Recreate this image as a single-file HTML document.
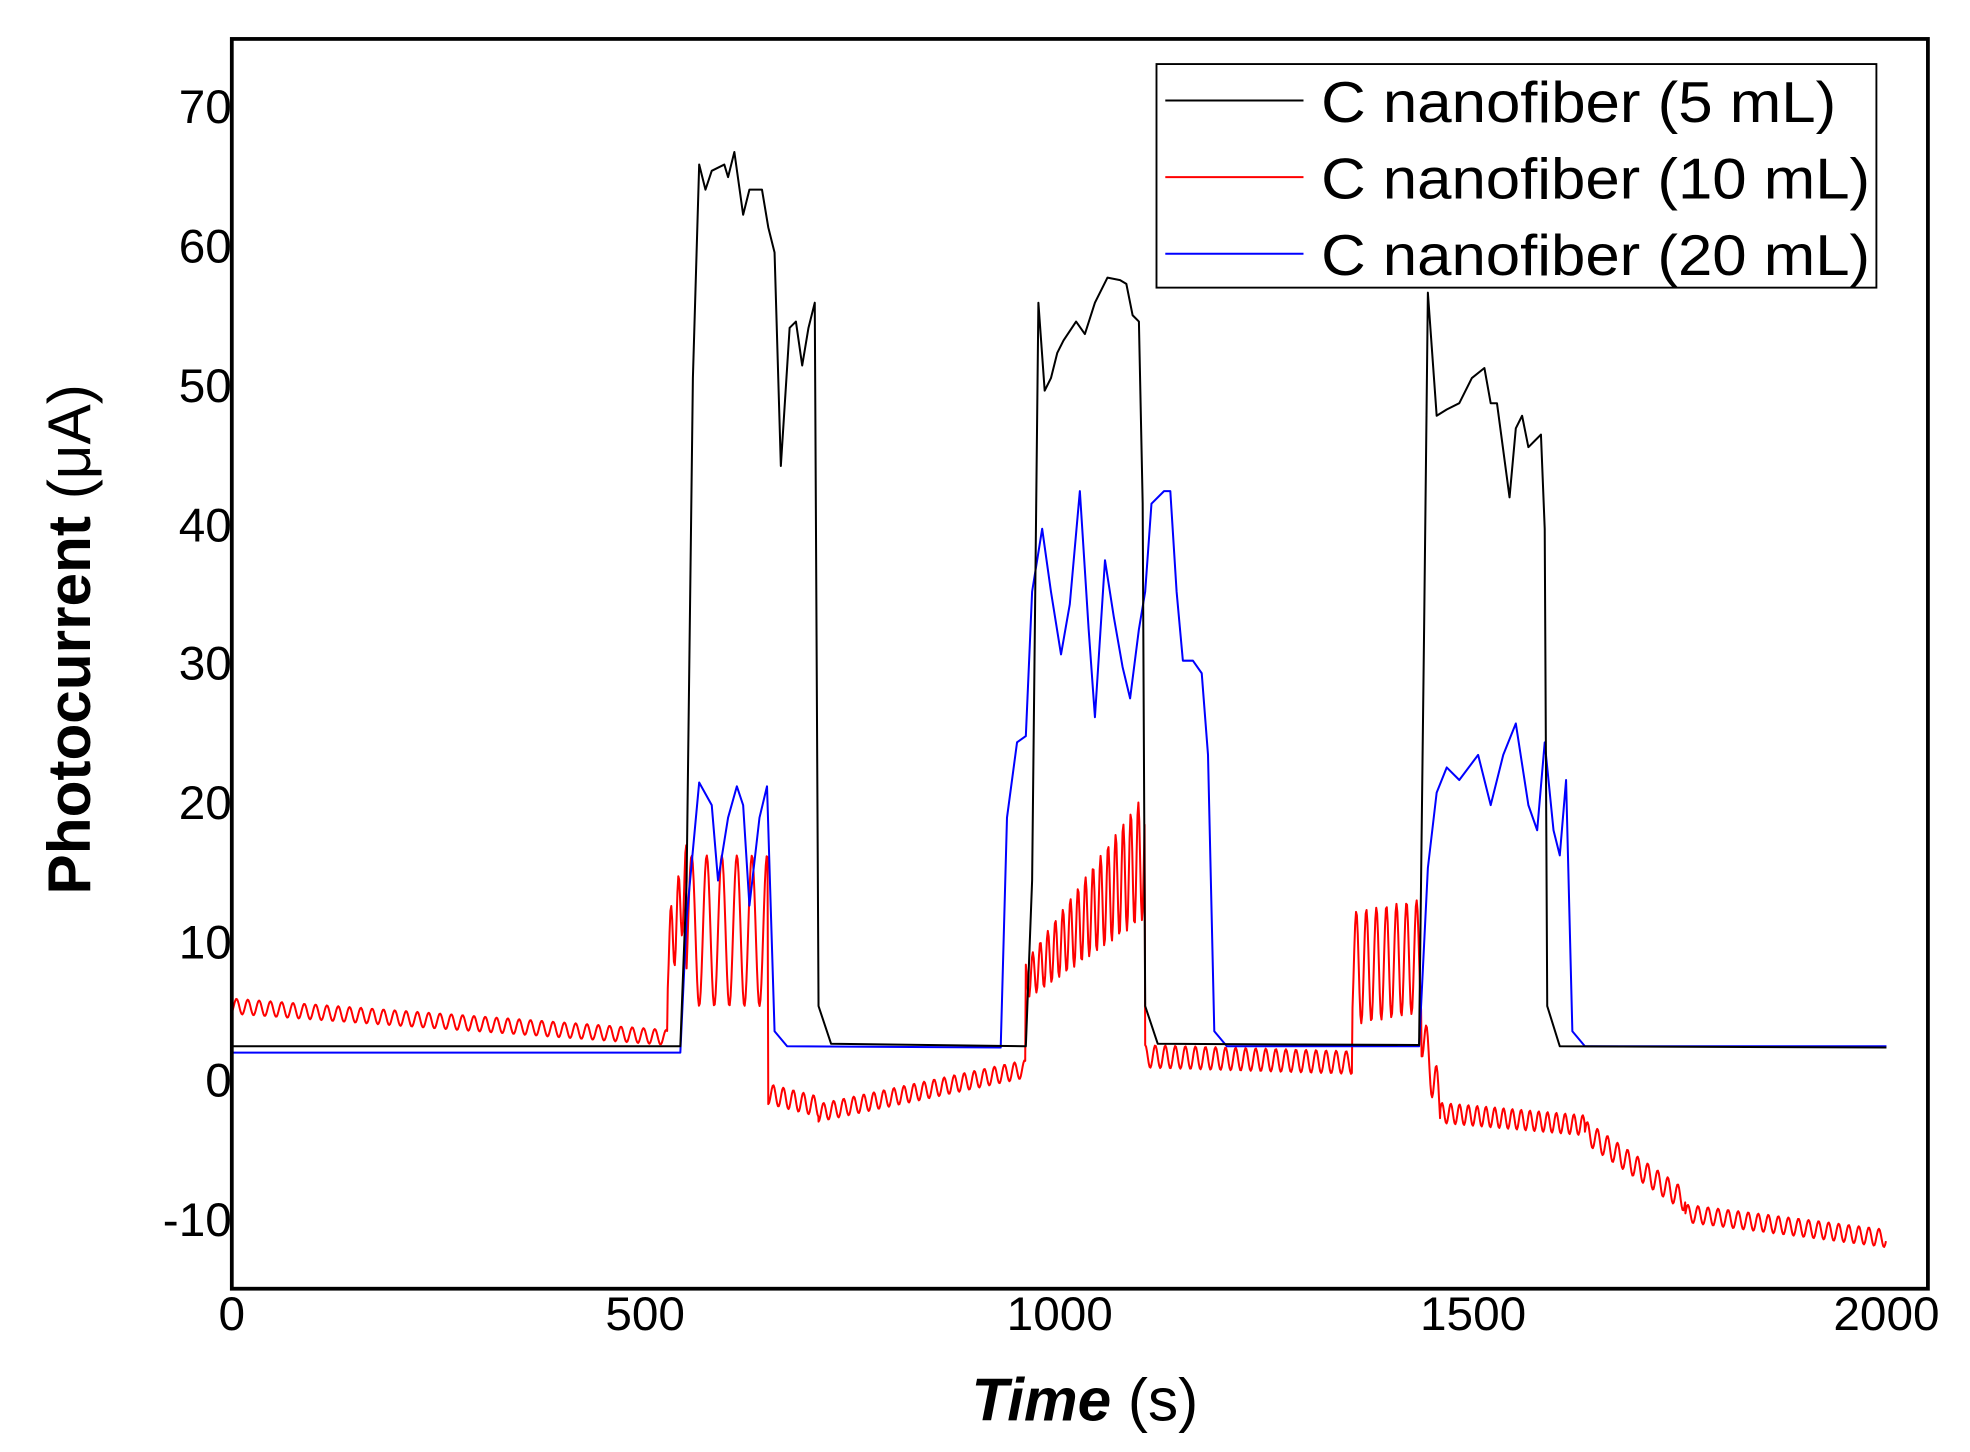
<!DOCTYPE html>
<html><head><meta charset="utf-8"><style>html,body{margin:0;padding:0;background:#fff}svg{display:block}</style></head>
<body>
<svg id="s" width="1970" height="1452" viewBox="-1.5 -1 1568 1156" preserveAspectRatio="none" xmlns="http://www.w3.org/2000/svg" font-family="Liberation Sans, sans-serif">
<rect x="-2" y="-2" width="1572" height="1160" fill="#fff"/>
<g font-size="38" fill="#000" text-anchor="end">
<text x="183" y="97">70</text><text x="183" y="208">60</text><text x="183" y="319">50</text>
<text x="183" y="430">40</text><text x="183" y="540">30</text><text x="183" y="651">20</text>
<text x="183" y="762">10</text><text x="183" y="872">0</text><text x="183" y="983">-10</text>
</g>
<g font-size="38" fill="#000" text-anchor="middle">
<text x="183" y="1058">0</text><text x="512" y="1058">500</text><text x="842" y="1058">1000</text>
<text x="1171" y="1058">1500</text><text x="1500" y="1058">2000</text>
</g>
<text x="862" y="1130" font-size="48" text-anchor="middle"><tspan font-weight="bold" font-style="italic">Time</tspan> (s)</text>
<text transform="translate(70,508) rotate(-90)" font-size="48" text-anchor="middle"><tspan font-weight="bold">Photocurrent</tspan> (μA)</text>
<g fill="none" stroke-width="1.6" stroke-linejoin="round">
<polyline id="red" stroke="#f00"/>
<polyline stroke="#00f" points="183,837 540,837 545,730 555,622 565,640 570,700 578,650 585,625 590,640 595,720 603,650 609,625 615,820 625,832 795,833 800,650 808,590 815,585 820,470 828,420 835,470 843,520 850,480 858,390 865,500 870,570 878,445 885,490 892,530 898,555 905,500 910,470 915,400 925,390 930,390 935,470 940,525 948,525 955,535 960,600 965,820 975,832 1128,832 1135,690 1142,630 1150,610 1160,620 1175,600 1185,640 1195,600 1205,575 1215,640 1222,660 1228,590 1235,660 1240,680 1245,620 1250,820 1260,832 1500,832"/>
<polyline stroke="#000" points="183,832 540,832 545,700 550,300 555,130 560,150 565,135 575,130 578,140 583,120 590,170 595,150 605,150 610,180 615,200 620,370 627,260 632,255 637,290 642,260 647,240 650,800 660,830 815,832 820,700 825,240 830,310 835,300 840,280 845,270 855,255 862,265 870,240 880,220 890,222 895,225 900,250 905,255 908,400 910,800 920,830 1128,831 1132,500 1135,232 1142,330 1150,325 1160,320 1170,300 1180,292 1185,320 1190,320 1200,395 1205,340 1210,330 1215,355 1220,350 1225,345 1228,420 1230,800 1240,832 1500,833"/>
</g>
<rect x="183" y="30" width="1350" height="995" fill="none" stroke="#000" stroke-width="3"/>
<rect x="919" y="50" width="573" height="178" fill="#fff" stroke="#000" stroke-width="1.5"/>
<line x1="926" y1="79" x2="1036" y2="79" stroke="#000" stroke-width="1.6"/>
<line x1="926" y1="140" x2="1036" y2="140" stroke="#f00" stroke-width="1.6"/>
<line x1="926" y1="201" x2="1036" y2="201" stroke="#00f" stroke-width="1.6"/>
<g font-size="46" fill="#000">
<text x="1050" y="96" textLength="410" lengthAdjust="spacingAndGlyphs">C nanofiber (5 mL)</text>
<text x="1050" y="157" textLength="437" lengthAdjust="spacingAndGlyphs">C nanofiber (10 mL)</text>
<text x="1050" y="218" textLength="437" lengthAdjust="spacingAndGlyphs">C nanofiber (20 mL)</text>
</g>
</svg>
<script>
var segs=[[183,530,800,825,6,9],[530,545,760,700,30,6],[545,610,740,740,60,12],[610,650,870,880,8,8],[650,815,885,850,7,8],[815,910,780,680,30,6],[910,1075,840,845,9,8],[1075,1130,770,760,45,8],[1130,1145,820,880,20,8],[1145,1260,885,895,8,7],[1260,1340,900,955,9,8],[1340,1500,965,985,7,8]];
var p=[];
segs.forEach(function(s){for(var x=s[0];x<s[1];x+=0.7){var t=(x-s[0])/(s[1]-s[0]);var b=s[2]+(s[3]-s[2])*t;var a=s[4];if(s[0]==815)a=15+35*t;var y=b+a*Math.sin(2*Math.PI*x/s[5]);p.push(x.toFixed(1)+','+y.toFixed(1));}});
document.getElementById('red').setAttribute('points',p.join(' '));
</script>
</body></html>
